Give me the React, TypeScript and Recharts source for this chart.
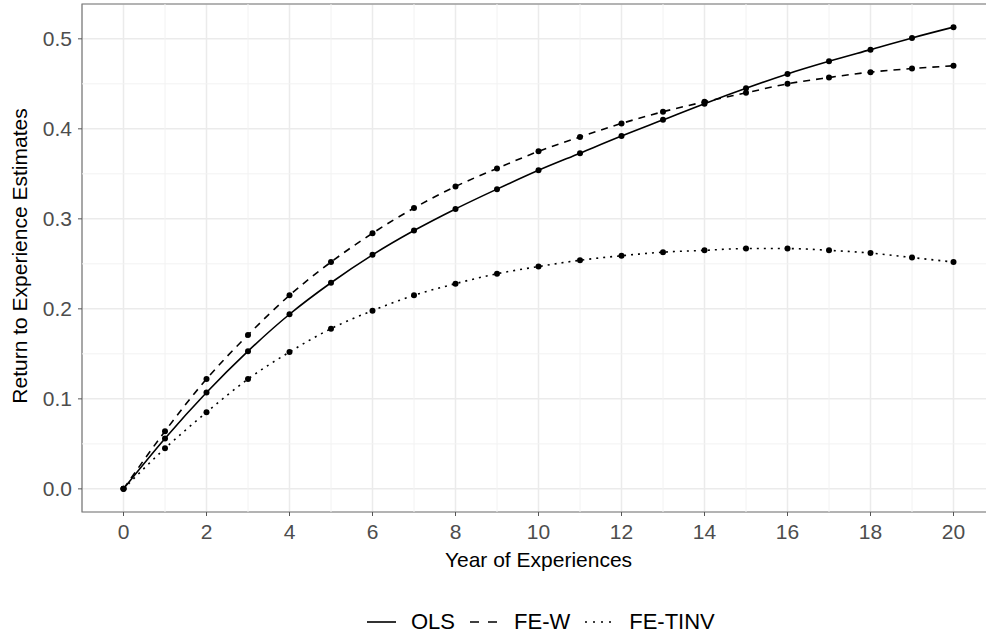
import React from 'react';
import {
  LineChart, Line, XAxis, YAxis, CartesianGrid, ReferenceLine, ReferenceArea, Legend,
} from 'recharts';

const years = [0, 1, 2, 3, 4, 5, 6, 7, 8, 9, 10, 11, 12, 13, 14, 15, 16, 17, 18, 19, 20];
const olsValues = [0, 0.056, 0.107, 0.153, 0.194, 0.229, 0.260, 0.287, 0.311, 0.333, 0.354,
  0.373, 0.392, 0.410, 0.428, 0.445, 0.461, 0.475, 0.488, 0.501, 0.513];
const feWValues = [0, 0.064, 0.122, 0.171, 0.215, 0.252, 0.284, 0.312, 0.336, 0.356, 0.375,
  0.391, 0.406, 0.419, 0.430, 0.440, 0.450, 0.457, 0.463, 0.467, 0.470];
const feTinvValues = [0, 0.045, 0.085, 0.122, 0.152, 0.178, 0.198, 0.215, 0.228, 0.239, 0.247,
  0.254, 0.259, 0.263, 0.265, 0.267, 0.267, 0.265, 0.262, 0.257, 0.252];

const xTicks = [0, 2, 4, 6, 8, 10, 12, 14, 16, 18, 20];
const yTicks = [0, 0.1, 0.2, 0.3, 0.4, 0.5];
const xMinor = [1, 3, 5, 7, 9, 11, 13, 15, 17, 19];
const yMinor = [0.05, 0.15, 0.25, 0.35, 0.45];

const data = years.map((x, i) => ({
  x,
  ols: olsValues[i],
  few: feWValues[i],
  fetinv: feTinvValues[i],
}));

const FONT = '"Liberation Sans", Arial, Helvetica, sans-serif';
const X_DOMAIN: [number, number] = [-1, 21];
const Y_DOMAIN: [number, number] = [-0.0257, 0.5387];

const SERIES = [
  { key: 'ols', name: 'OLS', dash: undefined, legendDash: undefined },
  { key: 'few', name: 'FE-W', dash: '7 6', legendDash: '9 9' },
  { key: 'fetinv', name: 'FE-TINV', dash: '2 5', legendDash: '2 6' },
];

const renderLegend = () => (
  <div style={{ display: 'flex', alignItems: 'center', height: 32, paddingLeft: 367, fontFamily: FONT, fontSize: 22, color: '#000' }}>
    {SERIES.map(s => (
      <div key={s.key} style={{ display: 'flex', alignItems: 'center', marginRight: 15 }}>
        <svg width={29} height={10}>
          <line x1={0} y1={5} x2={29} y2={5} stroke="#000" strokeWidth={1.6} strokeDasharray={s.legendDash} />
        </svg>
        <span style={{ marginLeft: 15 }}>{s.name}</span>
      </div>
    ))}
  </div>
);

export default function App() {
  return (
    <div style={{ position: 'absolute', left: 0, top: 0, width: 986, height: 638, overflow: 'hidden', background: '#fff' }}>
      <LineChart width={997} height={638} data={data} margin={{ top: 4, right: 2, left: 0, bottom: 0 }}>
        <CartesianGrid stroke="#ebebeb" strokeWidth={1.5} />
        {xMinor.map(v => (
          <ReferenceLine key={'xm' + v} x={v} stroke="#f2f2f2" strokeWidth={1} />
        ))}
        {yMinor.map(v => (
          <ReferenceLine key={'ym' + v} y={v} stroke="#f2f2f2" strokeWidth={1} />
        ))}
        <XAxis
          dataKey="x" type="number" domain={X_DOMAIN} ticks={xTicks} allowDataOverflow
          height={94} tickSize={4} tickMargin={8}
          axisLine={false} tickLine={{ stroke: '#555' }}
          tick={{ fontSize: 21, fill: '#4d4d4d', fontFamily: FONT }}
          label={{ value: 'Year of Experiences', position: 'insideBottom', offset: 39, fontSize: 21, fill: '#000', fontFamily: FONT }}
        />
        <YAxis
          type="number" domain={Y_DOMAIN} ticks={yTicks} allowDataOverflow
          width={82} tickSize={4} tickMargin={6}
          axisLine={false} tickLine={{ stroke: '#555' }}
          tickFormatter={(v: number) => v.toFixed(1)}
          tick={{ fontSize: 21, fill: '#4d4d4d', fontFamily: FONT }}
          label={{
            content: () => (
              <text x={19} y={256} transform="rotate(-90, 19, 256)" textAnchor="middle" dominantBaseline="central"
                fontSize={21} fill="#000" fontFamily={FONT}>
                Return to Experience Estimates
              </text>
            ),
          }}
        />
        <ReferenceArea x1={X_DOMAIN[0]} x2={X_DOMAIN[1]} y1={Y_DOMAIN[0]} y2={Y_DOMAIN[1]}
          fill="none" fillOpacity={0} stroke="#777" strokeWidth={1.2} ifOverflow="visible" />
        {SERIES.map(s => (
          <Line
            key={s.key} type="monotone" dataKey={s.key} name={s.name}
            stroke="#000" strokeWidth={1.6} strokeDasharray={s.dash}
            dot={{ r: 3, fill: '#000', stroke: '#000', strokeWidth: 0 }}
            isAnimationActive={false}
          />
        ))}
        <Legend content={renderLegend} wrapperStyle={{ left: 0, top: 606, bottom: 'auto', width: 986, height: 32 }} />
      </LineChart>
    </div>
  );
}
